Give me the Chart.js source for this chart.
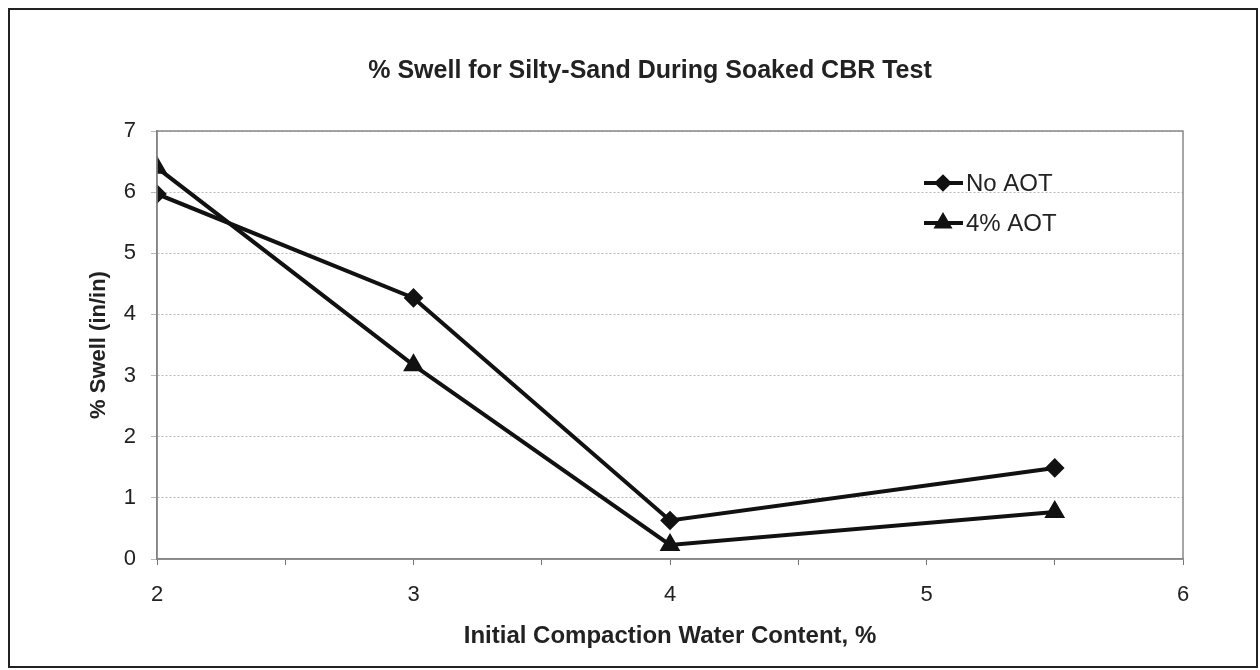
<!DOCTYPE html>
<html>
<head>
<meta charset="utf-8">
<script src="https://cdn.jsdelivr.net/npm/chart.js@4"></script>
<style>
  body { margin: 0; background: #fff; }
  #wrap { position: relative; width: 1260px; height: 670px; }
  #frame { position: absolute; left: 8px; top: 8px; width: 1246px; height: 656px;
           border: 2px solid #222; pointer-events: none; }
</style>
</head>
<body>
<div id="wrap">
  <canvas id="chartjs" width="1260" height="670"></canvas>
  <div id="frame"></div>
</div>
<script>
// Данные
let chartTitle = '% Swell for Silty-Sand During Soaked CBR Test';
let xTitle = 'Initial Compaction Water Content, %';
let yTitle = '% Swell (in/in)';
let waterContent = [2, 3, 4, 5.5];
let noAot = [5.97, 4.27, 0.63, 1.49];
let aot4 = [6.4, 3.17, 0.23, 0.77];
let seriesLabels = ['No AOT', '4% AOT'];

let fontFamily = '"Liberation Sans", Arial, sans-serif';

let canvas = document.getElementById('chartjs');
let context = canvas.getContext('2d');

const toPoints = (xs, ys) => xs.map((x, i) => ({ x: x, y: ys[i] }));

// Заголовок и рамка области графика
const plotFrame = {
    id: 'plotFrame',
    afterDatasetsDraw(chart) {
        let a = chart.chartArea;
        let ctx = chart.ctx;
        ctx.save();
        ctx.strokeStyle = '#888';
        ctx.lineWidth = 1.5;
        ctx.strokeRect(a.left, a.top, a.right - a.left, a.bottom - a.top);
        ctx.restore();
    },
    afterDraw(chart) {
        let ctx = chart.ctx;
        ctx.save();
        ctx.fillStyle = '#222';
        ctx.font = 'bold 25px ' + fontFamily;
        ctx.textAlign = 'center';
        ctx.textBaseline = 'middle';
        ctx.fillText(chartTitle, 650, 71);
        ctx.restore();
    }
};

// Легенда внутри графика
const innerLegend = {
    id: 'innerLegend',
    afterDraw(chart) {
        let ctx = chart.ctx;
        ctx.save();
        chart.data.datasets.forEach((ds, i) => {
            let y = 183 + i * 40;
            ctx.strokeStyle = '#111';
            ctx.lineWidth = 4;
            ctx.beginPath();
            ctx.moveTo(924, y);
            ctx.lineTo(963, y);
            ctx.stroke();
            ctx.fillStyle = '#111';
            Chart.helpers.drawPoint(ctx, {
                pointStyle: ds.pointStyle, radius: ds.pointRadius - 1, borderWidth: 1
            }, 943, y);
            ctx.fillStyle = '#222';
            ctx.font = '24px ' + fontFamily;
            ctx.textBaseline = 'middle';
            ctx.fillText(ds.label, 966, y + 1);
        });
        ctx.restore();
    }
};

let config = {
    type: 'line',
    data: {
        datasets: [
            {
                label: seriesLabels[0],
                data: toPoints(waterContent, noAot),
                borderColor: '#111',
                backgroundColor: '#111',
                borderWidth: 4,
                pointStyle: 'rectRot',
                pointRadius: 7,
                pointBorderColor: '#111',
                pointBackgroundColor: '#111'
            }, {
                label: seriesLabels[1],
                data: toPoints(waterContent, aot4),
                borderColor: '#111',
                backgroundColor: '#111',
                borderWidth: 4,
                pointStyle: 'triangle',
                pointRadius: 8,
                pointBorderColor: '#111',
                pointBackgroundColor: '#111'
            }
        ]
    },
    options: {
        responsive: false,
        animation: false,
        layout: { padding: { left: 0, right: 77, top: 131, bottom: 0 } },
        scales: {
            x: {
                type: 'linear',
                min: 2,
                max: 6,
                afterFit: (s) => { s.height = 670 - 559; },
                ticks: {
                    stepSize: 0.5,
                    autoSkip: false,
                    maxRotation: 0,
                    padding: 17,
                    color: '#222',
                    font: { family: fontFamily, size: 22 },
                    callback: (v) => Number.isInteger(v) ? v : ''
                },
                grid: { drawOnChartArea: false, tickLength: 6, color: '#777' },
                border: { color: '#777', width: 1.5 },
                title: {
                    display: true,
                    text: xTitle,
                    color: '#222',
                    font: { family: fontFamily, size: 24, weight: 'bold' },
                    padding: { top: 0, bottom: 19 }
                }
            },
            y: {
                min: 0,
                max: 7,
                afterFit: (s) => { s.width = 157; },
                ticks: {
                    stepSize: 1,
                    padding: 15,
                    color: '#222',
                    font: { family: fontFamily, size: 22 }
                },
                grid: { color: '#bbb', tickLength: 6, lineWidth: 1 },
                border: { color: '#777', width: 1.5, dash: [2, 2] },
                title: {
                    display: true,
                    text: yTitle,
                    color: '#222',
                    font: { family: fontFamily, size: 22, weight: 'bold' },
                    padding: { top: 86, bottom: 0 }
                }
            }
        },
        plugins: {
            legend: { display: false },
            tooltip: { enabled: false },
            title: { display: false }
        }
    },
    plugins: [plotFrame, innerLegend]
};

let chart = new Chart(context, config);
</script>
</body>
</html>
